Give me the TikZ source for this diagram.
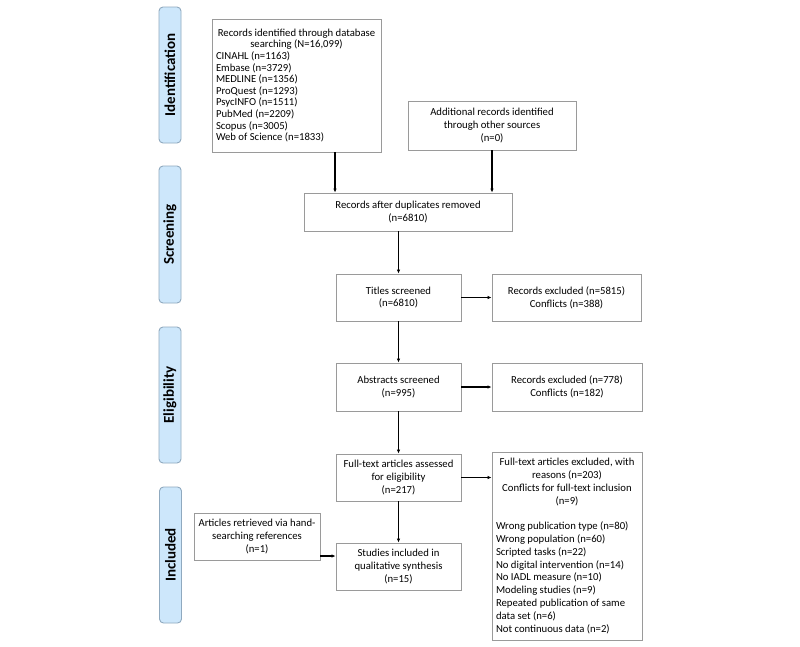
\documentclass[tikz,border=0pt]{standalone}
\usepackage{fontspec}
\setmainfont{Carlito}
\usetikzlibrary{arrows.meta}
\definecolor{lblfill}{HTML}{CDE7FB}
\definecolor{lbldraw}{HTML}{8FA9BF}
\definecolor{boxdraw}{HTML}{9A9A9A}
\tikzset{
  box/.style={draw=boxdraw, line width=0.9pt, fill=white, align=center, inner sep=2pt,
    font=\fontsize{10.7}{12.7}\selectfont},
  phase/.style={draw=lbldraw, fill=lblfill, rounded corners=4pt, line width=0.9pt,
    rotate=90, minimum height=22pt, inner sep=0pt,
    font=\fontsize{15}{18}\selectfont\bfseries},
  arr/.style={-{Latex[length=4pt,width=3.5pt]}, line width=1.1pt, black},
}
\begin{document}
\begin{tikzpicture}[x=1pt,y=-1pt]
\useasboundingbox (0,0) rectangle (800,646);
\fill[white] (0,0) rectangle (800,646);

% phase labels
\node[phase, minimum width=136pt] (pid) at (170,75) {Identification};
\node[phase, minimum width=137pt] (psc) at (170,234.5) {Screening};
\node[phase, minimum width=136pt] (pel) at (170,395) {Eligibility};
\node[phase, minimum width=136pt] (pin) at (170.5,555) {Included};

% boxes
\node[box, minimum width=169pt, minimum height=133pt] (db) at (296.5,85.5)
  {\parbox{161pt}{\fontsize{10.7}{11.6}\selectfont\centering
   Records identified through database\\ searching (N=16,099)\par\raggedright
   CINAHL (n=1163)\\Embase (n=3729)\\MEDLINE (n=1356)\\ProQuest (n=1293)\\
   PsycINFO (n=1511)\\PubMed (n=2209)\\Scopus (n=3005)\\Web of Science (n=1833)}};

\node[box, minimum width=168pt, minimum height=49pt] (add) at (492,125.5)
  {Additional records identified\\through other sources\\(n=0)};

\node[box, minimum width=208pt, minimum height=38pt] (dup) at (408,212)
  {Records after duplicates removed\\(n=6810)};

\node[box, minimum width=125pt, minimum height=47pt] (titles) at (398.5,297.5)
  {Titles screened\\(n=6810)};
\node[box, minimum width=149pt, minimum height=47pt] (excl1) at (566.5,297.5)
  {Records excluded (n=5815)\\Conflicts (n=388)};

\node[box, minimum width=125pt, minimum height=48pt] (abs) at (398.5,387)
  {Abstracts screened\\(n=995)};
\node[box, minimum width=150pt, minimum height=48pt] (excl2) at (567,387)
  {Records excluded (n=778)\\Conflicts (n=182)};

\node[box, minimum width=125pt, minimum height=47pt] (ft) at (398.5,477.5)
  {Full-text articles assessed\\for eligibility\\(n=217)};
\node[box, minimum width=150pt, minimum height=188pt] (excl3) at (567,546)
  {\parbox{142pt}{\fontsize{10.7}{12.8}\selectfont\centering
   Full-text articles excluded, with\\reasons (n=203)\\Conflicts for full-text inclusion\\(n=9)\par
   \vspace{12.8pt}\raggedright
   Wrong publication type (n=80)\\Wrong population (n=60)\\Scripted tasks (n=22)\\
   No digital intervention (n=14)\\No IADL measure (n=10)\\Modeling studies (n=9)\\
   Repeated publication of same\\data set (n=6)\\Not continuous data (n=2)}};

\node[box, minimum width=125pt, minimum height=47pt] (inc) at (398.5,566.5)
  {Studies included in\\qualitative synthesis\\(n=15)};
\node[box, minimum width=126pt, minimum height=47pt] (hand) at (257,536.5)
  {Articles retrieved via hand-\\searching references\\(n=1)};

% connectors
\draw[arr] ([xshift=38.5pt]db.south) coordinate (d1) -- (d1 |- dup.north);
\draw[arr] (add.south) -- (add.south |- dup.north);
\draw[arr] (titles.north |- dup.south) -- (titles.north);
\draw[arr] (titles.east) -- (excl1.west);
\draw[arr] (titles.south) -- (abs.north);
\draw[arr] (abs.east) -- (excl2.west);
\draw[arr] (abs.south) -- (ft.north);
\draw[arr] (ft.east) -- (ft.east -| excl3.west);
\draw[arr] (ft.south) -- (inc.north);
\draw[arr] ([yshift=-19.5pt]hand.east) coordinate (h1) -- (h1 -| inc.west);
\end{tikzpicture}
\end{document}
